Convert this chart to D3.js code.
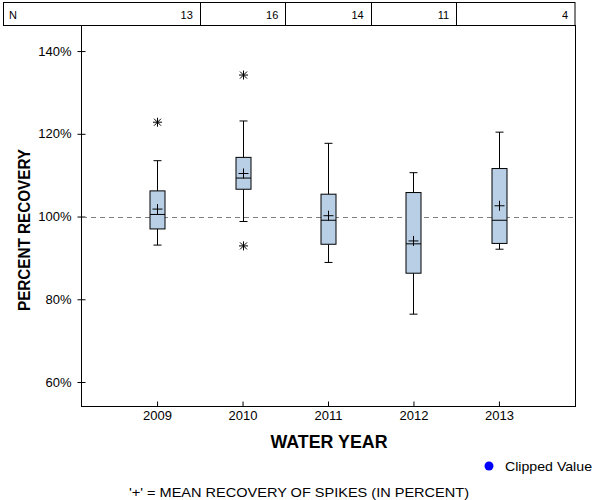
<!DOCTYPE html>
<html>
<head>
<meta charset="utf-8">
<script src="https://cdn.jsdelivr.net/npm/d3@7"></script>
<style>
  body { margin: 0; background: #fff; }
  svg { display: block; font-family: "Liberation Sans", Arial, sans-serif; }
</style>
</head>
<body>
<svg id="chart" width="600" height="500"></svg>
<script>
// ---- data ----
const years = [2009, 2010, 2011, 2012, 2013];
const nCounts = [13, 16, 14, 11, 4];
const whiskerLow = [93.1, 98.8, 88.9, 76.4, 92.1];
const q1 = [97.0, 106.6, 93.3, 86.3, 93.5];
const medians = [100.5, 109.3, 99.1, 93.4, 99.1];
const q3 = [106.2, 114.3, 105.4, 105.8, 111.6];
const whiskerHigh = [113.5, 123.1, 117.7, 110.6, 120.4];
const means = [101.8, 110.4, 100.2, 94.1, 102.6];
const outliers = [[122.8], [134.2, 92.9], [], [], []];
const yTicks = [60, 80, 100, 120, 140];
const refLine = 100;

// ---- layout ----
const svg = d3.select("#chart");
const pLeft = 81, pRight = 575, pTop = 25, pBottom = 406;
const x = d3.scaleLinear().domain([2008.11, 2013.89]).range([pLeft, pRight]);
const y = d3.scaleLinear().domain([54.2, 146.3]).range([pBottom, pTop]);
const boxW = 15, capW = 8;

// N table
const nTop = 2, nBottom = pTop;
svg.append("rect").attr("x", 3.5).attr("y", nTop + 0.5)
  .attr("width", pRight - 3.5).attr("height", nBottom - nTop)
  .attr("fill", "none").attr("stroke", "#000");
const bounds = years.map((d, i) => i < years.length - 1 ? (x(d) + x(years[i + 1])) / 2 : pRight);
bounds.slice(0, -1).forEach(b => {
  svg.append("line").attr("x1", Math.round(b) + 0.5).attr("x2", Math.round(b) + 0.5)
    .attr("y1", nTop).attr("y2", nBottom).attr("stroke", "#000");
});
svg.append("text").attr("x", 9).attr("y", 19).attr("font-size", 11).text("N");
nCounts.forEach((n, i) => {
  svg.append("text").attr("x", bounds[i] - 7).attr("y", 19)
    .attr("font-size", 11).attr("text-anchor", "end").text(n);
});

// frame
svg.append("rect").attr("x", pLeft + 0.5).attr("y", pTop + 0.5)
  .attr("width", pRight - pLeft).attr("height", pBottom - pTop)
  .attr("fill", "none").attr("stroke", "#000");

// y axis
const ya = svg.append("g").attr("transform", `translate(${pLeft + 0.5},0)`)
  .call(d3.axisLeft(y).tickValues(yTicks).tickSize(4).tickPadding(6).tickFormat(d => d + "%"));
ya.select(".domain").remove();
ya.selectAll(".tick line").attr("x1", -4).attr("x2", 4).attr("stroke", "#000");
ya.selectAll(".tick text").attr("font-size", 13).attr("font-family", "Liberation Sans, Arial, sans-serif").attr("fill", "#000");

// x axis
const xa = svg.append("g").attr("transform", `translate(0,${pBottom + 0.5})`)
  .call(d3.axisBottom(x).tickValues(years).tickSize(-5).tickPadding(4).tickFormat(d3.format("d")));
xa.select(".domain").remove();
xa.selectAll(".tick line").attr("stroke", "#000");
xa.selectAll(".tick text").attr("font-size", 13).attr("font-family", "Liberation Sans, Arial, sans-serif").attr("fill", "#000");

// reference line
svg.append("line").attr("x1", pLeft + 1).attr("x2", pRight)
  .attr("y1", Math.round(y(refLine)) + 0.5).attr("y2", Math.round(y(refLine)) + 0.5)
  .attr("stroke", "#808080").attr("stroke-dasharray", "5,4");

// boxes
const g = svg.append("g");
years.forEach((yr, i) => {
  const cx = Math.round(x(yr)) + 0.5;
  g.append("line").attr("x1", cx).attr("x2", cx).attr("y1", y(whiskerHigh[i])).attr("y2", y(q3[i])).attr("stroke", "#000");
  g.append("line").attr("x1", cx).attr("x2", cx).attr("y1", y(q1[i])).attr("y2", y(whiskerLow[i])).attr("stroke", "#000");
  g.append("line").attr("x1", cx - capW / 2).attr("x2", cx + capW / 2).attr("y1", y(whiskerHigh[i])).attr("y2", y(whiskerHigh[i])).attr("stroke", "#000");
  g.append("line").attr("x1", cx - capW / 2).attr("x2", cx + capW / 2).attr("y1", y(whiskerLow[i])).attr("y2", y(whiskerLow[i])).attr("stroke", "#000");
  g.append("rect").attr("x", cx - boxW / 2).attr("y", y(q3[i]))
    .attr("width", boxW).attr("height", y(q1[i]) - y(q3[i]))
    .attr("fill", "#b8cfe6").attr("stroke", "#000");
  g.append("line").attr("x1", cx - boxW / 2).attr("x2", cx + boxW / 2).attr("y1", y(medians[i])).attr("y2", y(medians[i])).attr("stroke", "#000");
  const my = y(means[i]);
  g.append("line").attr("x1", cx - 5).attr("x2", cx + 5).attr("y1", my).attr("y2", my).attr("stroke", "#000");
  g.append("line").attr("x1", cx).attr("x2", cx).attr("y1", my - 5).attr("y2", my + 5).attr("stroke", "#000");
  outliers[i].forEach(v => {
    const oy = y(v), s = 4.5, d = 3.5;
    const star = g.append("g").attr("stroke", "#000");
    star.append("line").attr("x1", cx).attr("x2", cx).attr("y1", oy - s).attr("y2", oy + s);
    star.append("line").attr("x1", cx - s).attr("x2", cx + s).attr("y1", oy).attr("y2", oy);
    star.append("line").attr("x1", cx - d).attr("x2", cx + d).attr("y1", oy - d).attr("y2", oy + d);
    star.append("line").attr("x1", cx - d).attr("x2", cx + d).attr("y1", oy + d).attr("y2", oy - d);
  });
});

// axis titles
svg.append("text").attr("x", 329).attr("y", 448)
  .attr("text-anchor", "middle").attr("font-size", 18).attr("font-weight", "bold")
  .attr("textLength", 117).attr("lengthAdjust", "spacingAndGlyphs").text("WATER YEAR");
svg.append("text").attr("transform", "translate(30,230) rotate(-90)")
  .attr("text-anchor", "middle").attr("font-size", 17).attr("font-weight", "bold")
  .attr("textLength", 162).attr("lengthAdjust", "spacingAndGlyphs").text("PERCENT RECOVERY");

// legend
svg.append("circle").attr("cx", 489).attr("cy", 466).attr("r", 4.5).attr("fill", "#0000ff");
svg.append("text").attr("x", 505).attr("y", 471).attr("font-size", 13.5)
  .attr("textLength", 87).attr("lengthAdjust", "spacingAndGlyphs").text("Clipped Value");

// footnote
svg.append("text").attr("x", 299).attr("y", 497).attr("text-anchor", "middle")
  .attr("font-size", 13.5).attr("textLength", 340).attr("lengthAdjust", "spacingAndGlyphs")
  .text("'+' = MEAN RECOVERY OF SPIKES (IN PERCENT)");
</script>
</body>
</html>
